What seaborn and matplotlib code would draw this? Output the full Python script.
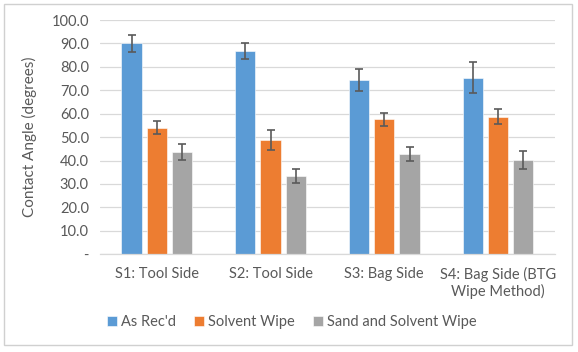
import matplotlib
matplotlib.use("Agg")
import matplotlib.pyplot as plt
import seaborn as sns
import pandas as pd
import numpy as np
from matplotlib.patches import Rectangle

categories = ["S1: Tool Side", "S2: Tool Side", "S3: Bag Side", "S4: Bag Side (BTG\nWipe Method)"]
series = ["As Rec'd", "Solvent Wipe", "Sand and Solvent Wipe"]
as_recd = [90.0, 86.9, 74.3, 75.4]
solvent_wipe = [54.0, 48.8, 57.7, 58.7]
sand_solvent = [43.8, 33.5, 42.9, 40.2]
err_as_recd = [3.8, 3.4, 4.8, 6.7]
err_solvent = [2.7, 4.2, 2.8, 3.1]
err_sand = [3.4, 3.0, 3.0, 4.0]
yticks = [0, 10, 20, 30, 40, 50, 60, 70, 80, 90, 100]
ytick_labels = ["-", "10.0", "20.0", "30.0", "40.0", "50.0", "60.0", "70.0", "80.0", "90.0", "100.0"]
colors = ["#5B9BD5", "#ED7D31", "#A5A5A5"]

rows = []
for s, vals, errs in zip(series, [as_recd, solvent_wipe, sand_solvent], [err_as_recd, err_solvent, err_sand]):
    for c, v, e in zip(categories, vals, errs):
        rows.append({"cat": c, "series": s, "value": v, "err": e})
df = pd.DataFrame(rows)

sns.set_theme(style="white")
plt.rcParams["font.family"] = ["Lato", "DejaVu Sans"]
text_color = "#595959"

fig = plt.figure(figsize=(5.78, 3.52), dpi=100)
ax = fig.add_axes([0.173, 0.278, 0.787, 0.665])

sns.barplot(data=df, x="cat", y="value", hue="series", order=categories, hue_order=series,
            palette=colors, saturation=1, width=0.667, gap=0.2, errorbar=None, ax=ax, legend=True,
            edgecolor="white", linewidth=0.4, zorder=2)

n = len(categories)
for i, s in enumerate(series):
    cont = ax.containers[i]
    sub = df[df["series"] == s].set_index("cat").loc[categories]
    xs = [p.get_x() + p.get_width() / 2 for p in cont.patches]
    ax.errorbar(xs, sub["value"].values, yerr=sub["err"].values, fmt="none",
                ecolor="#5a5a5a", elinewidth=1.2, capsize=3.2, capthick=1.2, zorder=3)

ax.set_ylim(0, 100)
ax.set_xlim(-0.5, n - 0.5)
ax.set_yticks(yticks)
ax.set_yticklabels(ytick_labels)
ax.yaxis.grid(True, color="#D9D9D9", linewidth=0.9, zorder=0)
ax.set_axisbelow(True)
for side in ["top", "right", "left"]:
    ax.spines[side].set_visible(False)
ax.spines["bottom"].set_color("#D9D9D9")
ax.spines["bottom"].set_linewidth(0.9)
ax.tick_params(axis="y", length=0, labelsize=10.5, colors=text_color, pad=8)
ax.tick_params(axis="x", length=0, labelsize=10.5, colors=text_color, pad=9)
ax.set_xlabel("")
ax.set_ylabel("Contact Angle (degrees)", fontsize=11, color=text_color, labelpad=10)

handles, labels = ax.get_legend_handles_labels()
leg = fig.legend(handles, labels, loc="center", bbox_to_anchor=(0.505, 0.084), ncol=3,
                 frameon=False, fontsize=10.5, handlelength=0.7, handleheight=0.7,
                 handletextpad=0.3, columnspacing=1.2, labelcolor=text_color)
if ax.get_legend() is not None:
    ax.get_legend().remove()

fig.patches.append(Rectangle((4 / 578, 1 - 345 / 352), 568 / 578, 341 / 352, transform=fig.transFigure,
                             fill=False, edgecolor="#D0D0D0", linewidth=1.0))

fig.savefig("out.png", dpi=100)
